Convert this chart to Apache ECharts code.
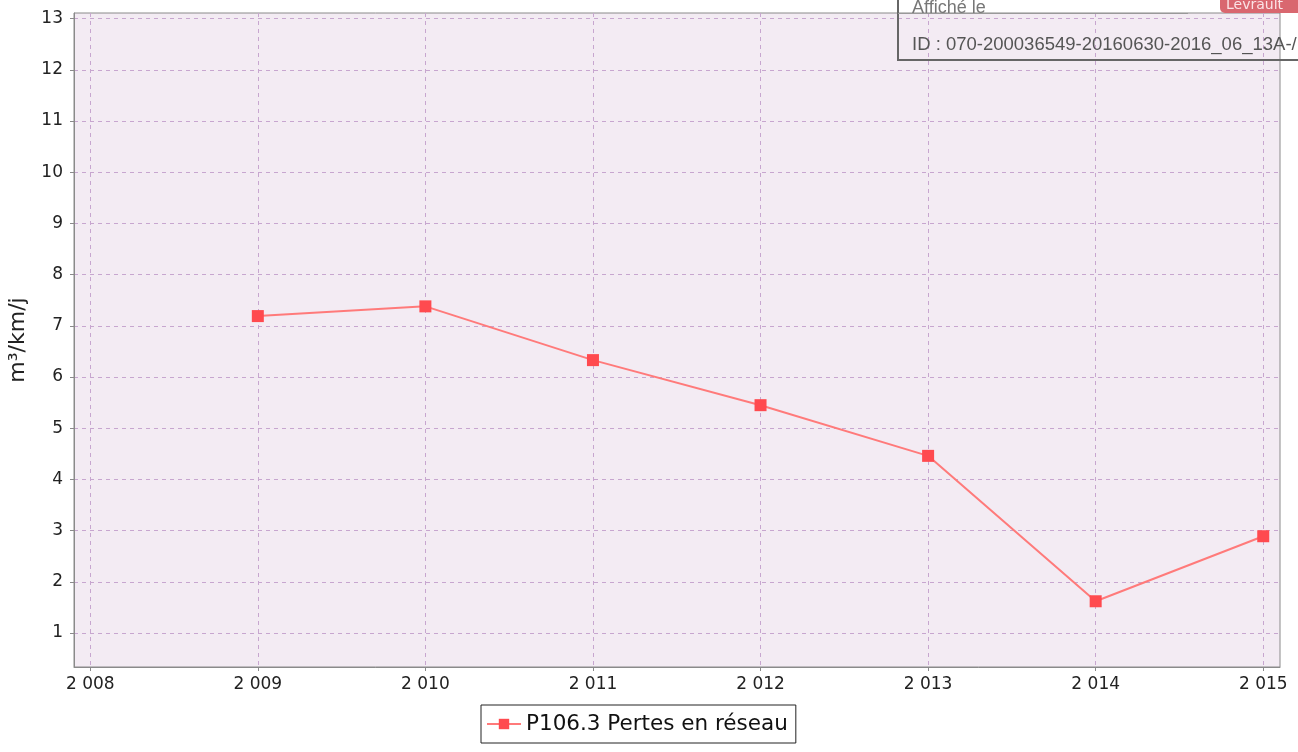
<!DOCTYPE html>
<html>
<head>
<meta charset="utf-8">
<script src="https://cdn.jsdelivr.net/npm/echarts@6/dist/echarts.min.js"></script>
<style>html,body{margin:0;padding:0;background:#fff}#c{width:1298px;height:752px}</style>
</head>
<body>
<div id="c"></div>
<script>
const years = [2009, 2010, 2011, 2012, 2013, 2014, 2015];
const values = [7.19, 7.38, 6.33, 5.45, 4.46, 1.62, 2.89];
const xTicks = [2008, 2009, 2010, 2011, 2012, 2013, 2014, 2015];
const yTicks = [1, 2, 3, 4, 5, 6, 7, 8, 9, 10, 11, 12, 13];
const seriesName = 'P106.3 Pertes en réseau';
const yName = 'm³/km/j';
const stampTop = 'Affiché le';
const stampId = 'ID : 070-200036549-20160630-2016_06_13A-/';
const badge = 'Levrault';

const fmtThousands = v => {
  const s = String(Math.round(v));
  return s.replace(/\B(?=(\d{3})+(?!\d))/g, ' ');
};
const font = 'DejaVu Sans';
const chart = echarts.init(document.getElementById('c'));
chart.setOption({
  animation: false,
  backgroundColor: '#fff',
  grid: {
    left: 74, right: 18, top: 13, bottom: 85,
    outerBoundsMode: 'none', containLabel: false,
    show: true, backgroundColor: '#f3ebf3', borderColor: '#8a8a8a', borderWidth: 1
  },
  xAxis: {
    type: 'value', min: 2007.903, max: 2015.1,
    axisLine: {show: true, lineStyle: {color: '#8a8a8a', width: 1}},
    axisTick: {show: true, length: 4, lineStyle: {color: '#8a8a8a'}, customValues: xTicks},
    axisLabel: {customValues: xTicks, formatter: fmtThousands, color: '#222', fontFamily: font, fontSize: 17, margin: 9},
    splitLine: {show: true, lineStyle: {color: '#c7a6cf', type: [4, 4], width: 1}}
  },
  yAxis: {
    type: 'value', min: 0.336, max: 13.11,
    name: yName, nameLocation: 'middle', nameGap: 45, nameRotate: 90,
    nameTextStyle: {fontFamily: font, fontSize: 22, color: '#222'},
    axisLine: {show: true, lineStyle: {color: '#8a8a8a', width: 1}},
    axisTick: {show: true, length: 4, lineStyle: {color: '#8a8a8a'}, customValues: yTicks},
    axisLabel: {customValues: yTicks, color: '#222', fontFamily: font, fontSize: 17, margin: 11},
    splitLine: {show: true, lineStyle: {color: '#c7a6cf', type: [4, 4], width: 1}}
  },
  legend: {
    left: 481, top: 705, orient: 'horizontal',
    backgroundColor: '#fff', borderColor: '#222', borderWidth: 1, borderRadius: 0,
    padding: [8, 8, 8, 5], itemWidth: 34, itemHeight: 13, itemGap: 4,
    textStyle: {fontFamily: font, fontSize: 21.5, color: '#111'},
    data: [seriesName]
  },
  series: [{
    name: seriesName, type: 'line',
    data: years.map((y, i) => [y, values[i]]),
    symbol: 'rect', symbolSize: 12, showSymbol: true,
    lineStyle: {color: '#ff7a7a', width: 2},
    itemStyle: {color: '#ff4a4f'}
  }],
  graphic: [
    {type: 'rect', shape: {x: 898, y: -10, width: 420, height: 70}, style: {fill: 'none', stroke: '#666', lineWidth: 2}, z: 100},
    {type: 'line', shape: {x1: 898, y1: 13.5, x2: 1188, y2: 13.5}, style: {stroke: '#999', lineWidth: 1}, z: 100},
    {type: 'text', x: 912, y: -1, style: {text: stampTop, font: '18px "Liberation Sans"', fill: '#777'}, z: 100},
    {type: 'text', x: 912, y: 35, style: {text: stampId, font: '18.5px "Liberation Sans"', fill: '#555'}, z: 100},
    {type: 'rect', shape: {x: 1220, y: -10, width: 90, height: 23, r: 5}, style: {fill: '#d9676f'}, z: 100},
    {type: 'text', x: 1226, y: -2, style: {text: badge, font: '14px "DejaVu Sans"', fill: '#fbe3e5'}, z: 101}
  ]
});
</script>
</body>
</html>
